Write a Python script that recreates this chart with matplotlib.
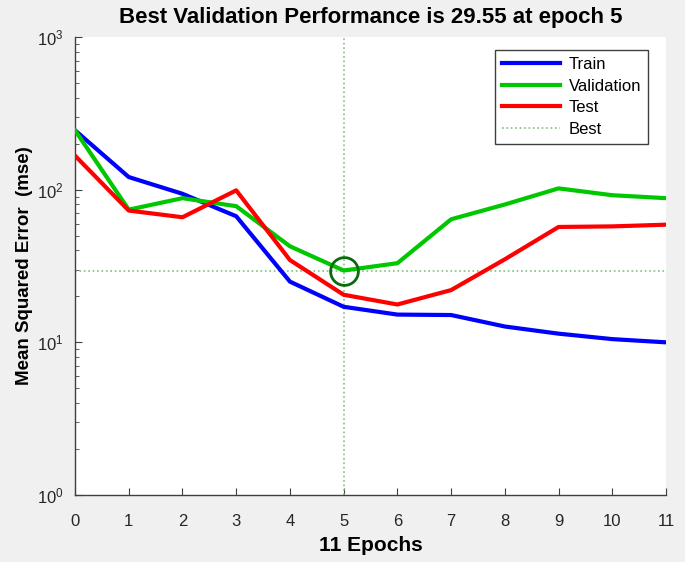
import numpy as np
import matplotlib
matplotlib.use('Agg')
import matplotlib.pyplot as plt
from matplotlib.ticker import LogLocator, NullFormatter

plt.rcParams['font.family'] = ['Liberation Sans', 'DejaVu Sans']

# values
epochs = list(range(0, 12))
train = [245, 121, 94, 67, 25, 17.1, 15.2, 15.1, 12.7, 11.4, 10.5, 10.0]
validation = [245, 74, 88, 78, 42.6, 29.55, 33, 64, 80, 102, 92, 88]
test = [167, 73, 66, 99, 34.6, 20.5, 17.7, 22, 35, 57, 57.5, 59]
best_epoch = 5
best_perf = 29.55

fig = plt.figure(figsize=(6.85, 5.62), dpi=100, facecolor='#f0f0f0')
ax = fig.add_axes([0.1095, 0.1192, 0.8628, 0.8149])
ax.set_facecolor('white')

ax.plot(epochs, train, color='#0000ff', lw=3, label='Train', zorder=3)
ax.plot(epochs, validation, color='#00c800', lw=3, label='Validation', zorder=3)
ax.plot(epochs, test, color='#ff0000', lw=3, label='Test', zorder=4)
ax.axvline(best_epoch, color='#80c080', ls=':', lw=1.2, label='Best', zorder=2)
ax.axhline(best_perf, color='#80c080', ls=':', lw=1.2, zorder=2)
ax.plot([best_epoch], [best_perf], 'o', mfc='none', mec='#0a6b0a', ms=20, mew=2, zorder=5)

ax.set_yscale('log')
ax.set_xlim(0, 11)
ax.set_ylim(1, 1000)
ax.set_xticks(epochs)
ax.yaxis.set_major_locator(LogLocator(base=10, numticks=10))
ax.yaxis.set_minor_locator(LogLocator(base=10, subs=np.arange(2, 10), numticks=10))
ax.yaxis.set_minor_formatter(NullFormatter())
ax.tick_params(which='both', direction='in', labelsize=12, color='#404040', labelcolor='#262626')
ax.tick_params(axis='x', pad=14)
ax.tick_params(axis='y', pad=8)
ax.tick_params(which='major', length=5)
ax.tick_params(which='minor', length=3)
ax.spines['top'].set_visible(False)
ax.spines['right'].set_visible(False)
for s in ['left', 'bottom']:
    ax.spines[s].set_color('#404040')
    ax.spines[s].set_linewidth(1)

ax.set_title('Best Validation Performance is 29.55 at epoch 5', fontsize=16, fontweight='bold', pad=10)
ax.set_xlabel('11 Epochs', fontsize=15, fontweight='bold', labelpad=5)
ax.set_ylabel('Mean Squared Error  (mse)', fontsize=13.5, fontweight='bold', labelpad=3)

leg = ax.legend(loc='upper right', bbox_to_anchor=(0.9695, 0.971), borderaxespad=0, fontsize=12,
                fancybox=False, framealpha=1, edgecolor='#404040', handlelength=3.5,
                handletextpad=0.5, borderpad=0.4, labelspacing=0.4)
leg.get_frame().set_linewidth(1)

fig.savefig('out.png', dpi=100, facecolor=fig.get_facecolor())
